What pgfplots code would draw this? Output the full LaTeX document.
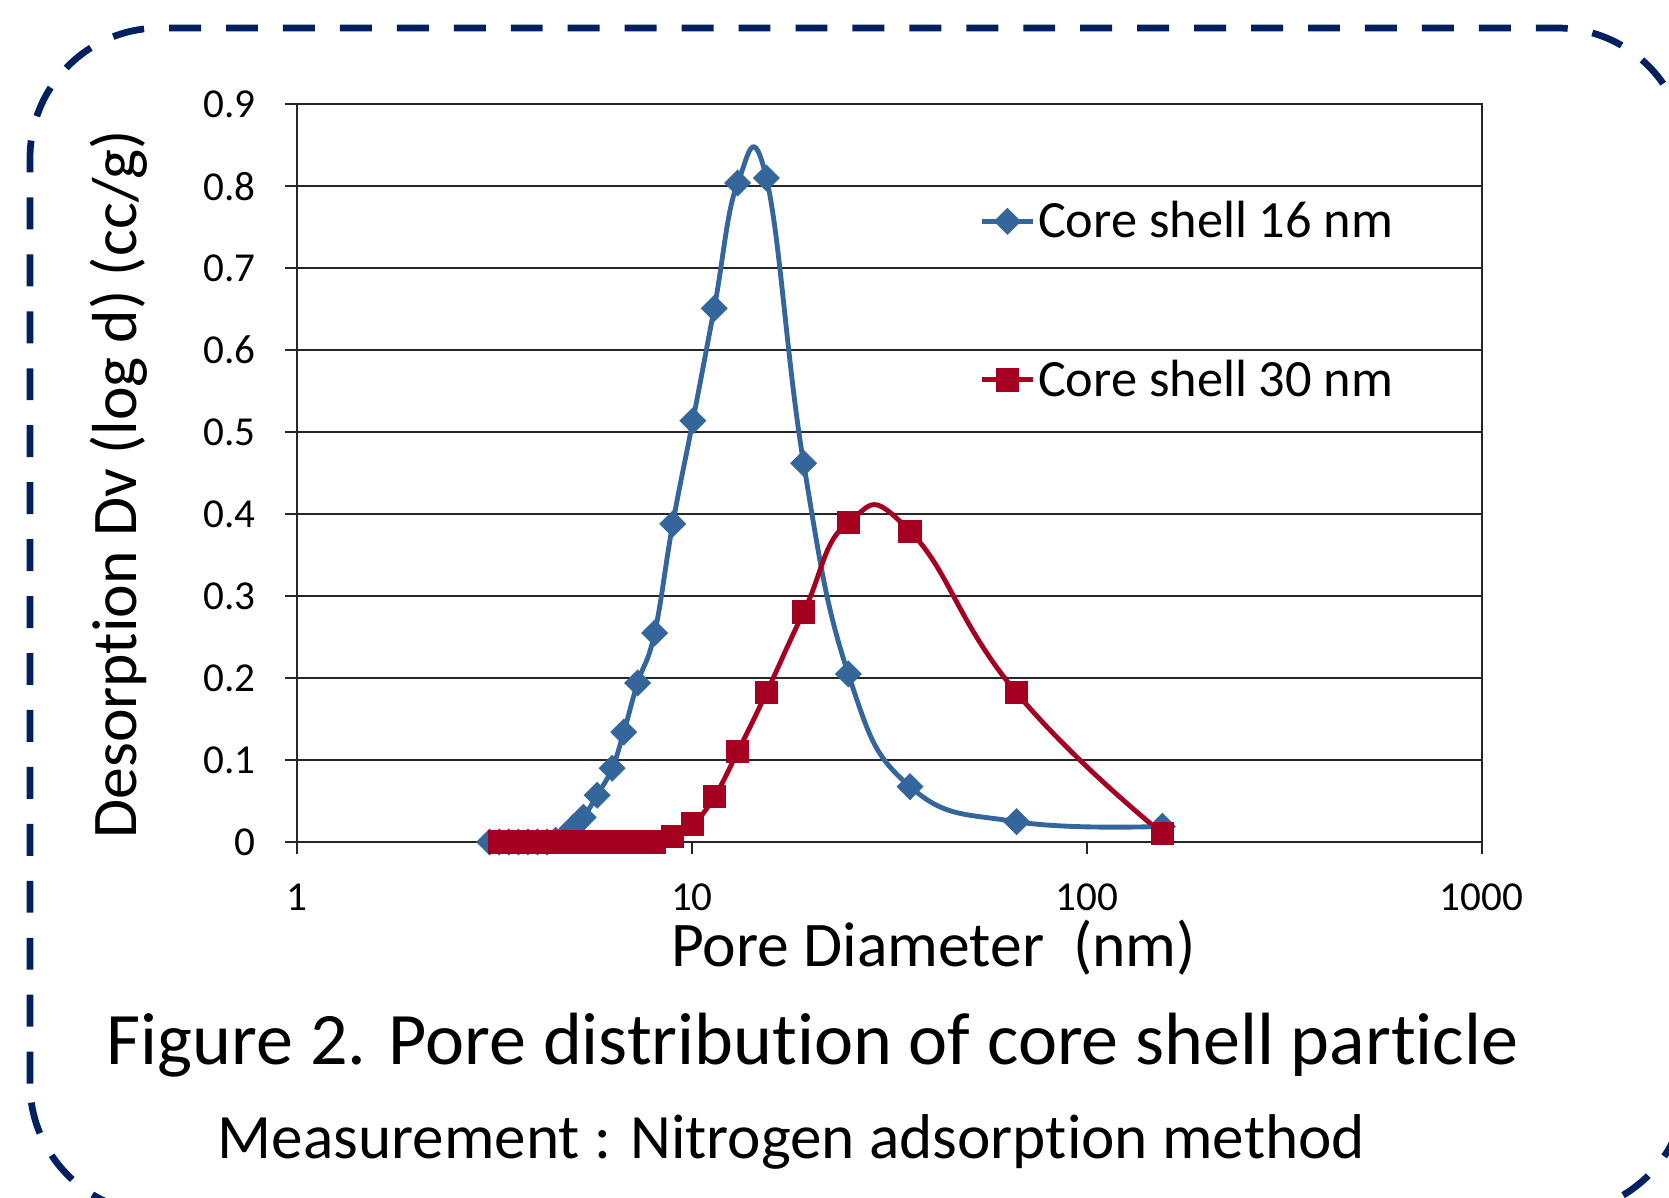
\documentclass[border=0pt]{standalone}
\usepackage{pgfplots}
\usepackage{pgfplotstable}
\pgfplotsset{compat=1.18}
\usepackage{fontspec}
\setmainfont{Carlito}[Ligatures=NoCommon]

\definecolor{csblue}{RGB}{52,101,155}
\definecolor{csred}{RGB}{165,0,33}
\definecolor{framecol}{RGB}{0,32,96}

% pore diameter (nm) vs desorption Dv(log d) (cc/g)
\pgfplotstableread{
d dv
3.075 0
3.252 0
3.439 0
3.636 0
3.845 0
4.066 0
4.299 0
4.519 0.002
4.749 0.006
4.991 0.017
5.311 0.030
5.755 0.057
6.281 0.090
6.723 0.134
7.287 0.194
8.048 0.255
8.944 0.388
10.06 0.514
11.39 0.651
13.06 0.804
15.44 0.810
19.19 0.462
24.90 0.205
35.69 0.0675
66.40 0.0247
155.4 0.019
}\shellsixteen

\pgfplotstableread{
d dv
3.252 0
3.439 0
3.636 0
3.845 0
4.066 0
4.299 0
4.519 0
4.749 0
4.991 0
5.311 0
5.755 0
6.281 0
6.723 0
7.287 0
8.048 0
8.944 0.007
10.06 0.022
11.39 0.055
13.06 0.110
15.44 0.182
19.19 0.2805
24.90 0.390
35.69 0.379
66.40 0.182
155.4 0.0104
}\shellthirty

\begin{document}
\begin{tikzpicture}
\useasboundingbox (0,0) rectangle (15.68,11.25);
\begin{scope}
  \clip (0,0) rectangle (15.68,11.25);
  \draw[framecol, line width=1.8pt, dash pattern=on 0.30cm off 0.235cm,
        rounded corners=1.22cm] (0.282,-0.15) rectangle (15.844,10.987);
\end{scope}

\begin{axis}[
  at={(2.79cm,3.34cm)}, anchor=south west,
  scale only axis, width=11.13cm, height=6.93cm,
  xmode=log, xmin=1, xmax=1000, ymin=0, ymax=0.9,
  xtick={1,10,100,1000}, xticklabels={1,10,100,1000},
  ytick={0,0.1,0.2,0.3,0.4,0.5,0.6,0.7,0.8,0.9},
  yticklabels={0,0.1,0.2,0.3,0.4,0.5,0.6,0.7,0.8,0.9},
  xminorticks=false,
  ymajorgrids,
  major grid style={black!85, line width=0.02cm},
  axis line style={black!85, line width=0.02cm},
  tick style={black!85, line width=0.02cm},
  tick align=outside, major tick length=0.11cm, tick pos=left,
  /pgf/number format/assume math mode=true,
  ticklabel style={font=\fontsize{11}{13}\selectfont},
  yticklabel style={inner sep=0pt, anchor=east, xshift=-0.27cm},
  xticklabel style={inner sep=0pt, anchor=north, yshift=-0.28cm, text depth=0pt},
  clip=false,
  legend cell align=left,
  legend image code/.code={
    \draw[mark repeat=2,mark phase=2,#1] plot coordinates {(0cm,0cm) (0.235cm,0cm) (0.47cm,0cm)};},
  legend style={at={(axis description cs:0.5759,0.8792)}, anchor=north west,
    draw=none, fill=none, inner sep=0pt, row sep=0.98cm, column sep=0.03cm,
    font=\fontsize{14}{16}\selectfont,
    nodes={inner sep=0pt, text height=0.41cm, text depth=0.1cm}},
]
\addplot[csblue, line width=1.3pt, smooth, tension=0.75, mark=diamond*,
  mark size=2.7pt, mark options={xscale=1.33, solid}]
  table[x=d, y=dv] {\shellsixteen};
\addlegendentry{Core shell 16 nm}
\addplot[csred, line width=1.3pt, smooth, tension=0.85, mark=square*,
  mark size=2.45pt, mark options={solid}]
  table[x=d, y=dv] {\shellthirty};
\addlegendentry{Core shell 30 nm}
\end{axis}

\node[anchor=base, inner sep=0pt, font=\fontsize{17}{20}\selectfont] at (8.77,2.17) {Pore Diameter\ \ (nm)};
\node[anchor=base, inner sep=0pt, rotate=90, font=\fontsize{17}{20}\selectfont] at (1.28,6.70) {Desorption Dv (log d) (cc/g)};
\node[anchor=base, inner sep=0pt, font=\fontsize{19.8}{24}\selectfont] at (7.635,1.25) {Figure 2. Pore distribution of core shell particle};
\node[anchor=base, inner sep=0pt, font=\fontsize{16.9}{20}\selectfont] at (7.435,0.37) {Measurement : Nitrogen adsorption method};
\end{tikzpicture}
\end{document}
